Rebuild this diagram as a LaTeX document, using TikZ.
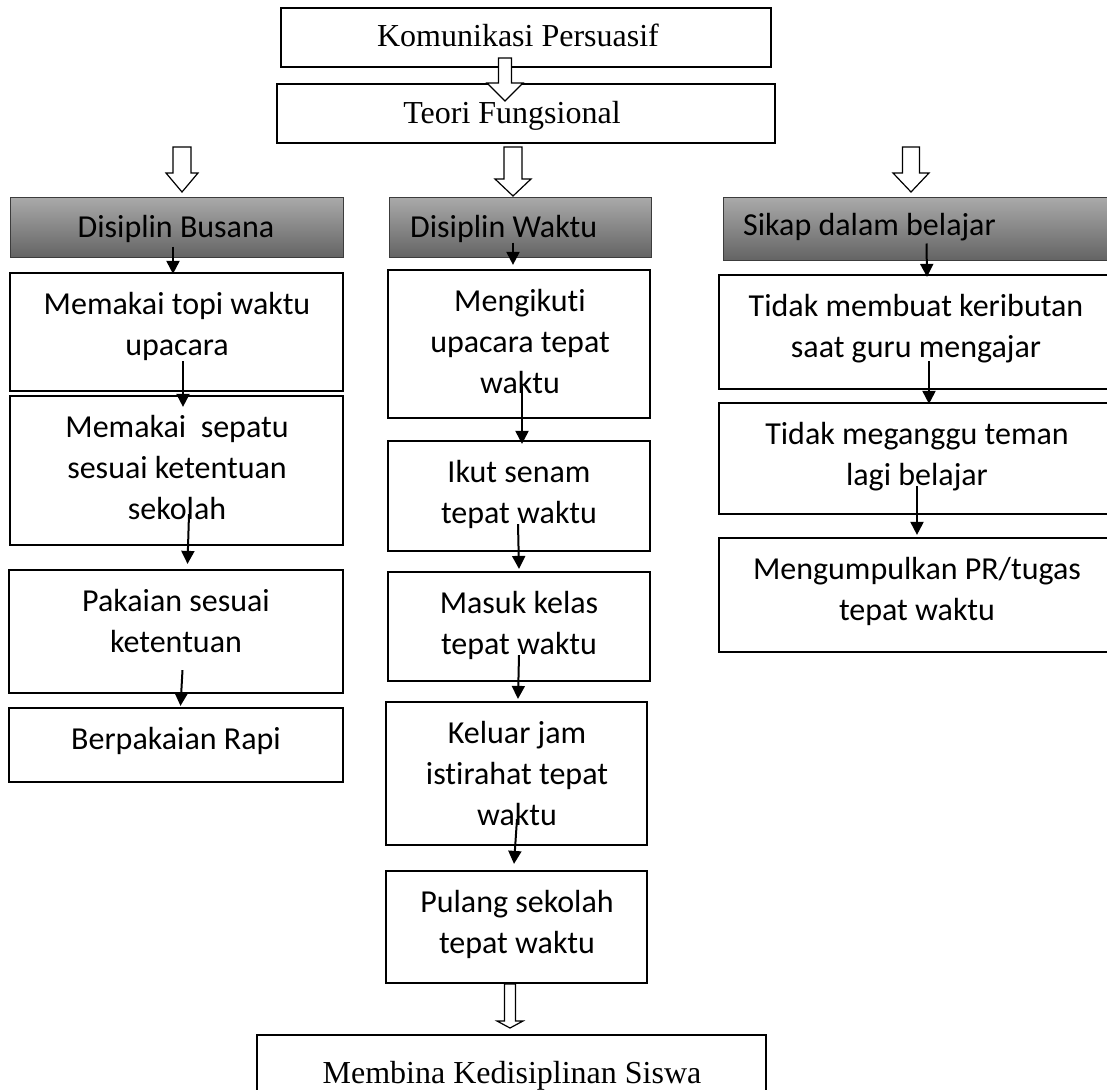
\documentclass[tikz,border=0pt]{standalone}
\usepackage{fontspec}
\setmainfont{Carlito}
\newfontfamily\calfont[RawFeature={-liga}]{Carlito}
\newfontfamily\tmsfont{Liberation Serif}
\usetikzlibrary{arrows.meta,calc}
\definecolor{hdtop}{RGB}{170,170,170}
\definecolor{hdbot}{RGB}{100,100,100}
\definecolor{hdline}{RGB}{60,60,60}
% box by corners: style, name, left, top, right, bottom (pixel units, y downwards)
\newcommand\mkbox[6]{\node[#1,minimum width={(#5)-(#3)},minimum height={(#6)-(#4)}] (#2) at ({((#3)+(#5))/2},{((#4)+(#6))/2}) {};}
% hollow block arrow: name, x, ytop, ybase, ytip, shaft half width, head half width
\newcommand\hollowArr[7]{\draw[hollow] ({#2-#6},#3) -- ({#2+#6},#3) -- ({#2+#6},#4) -- ({#2+#7},#4) -- (#2,#5) -- ({#2-#7},#4) -- ({#2-#6},#4) -- cycle;}
\begin{document}
\begin{tikzpicture}[x=1pt,y=-1pt,
  tbox/.style={draw=black,line width=1.3pt,fill=white,inner sep=0pt},
  ibox/.style={draw=black,line width=2.2pt,fill=white,inner sep=0pt},
  hbox/.style={draw=hdline,line width=1pt,top color=hdtop,bottom color=hdbot,inner sep=0pt},
  ctxt/.style={font=\calfont\fontsize{32}{41}\selectfont,align=center,inner sep=0pt,anchor=north},
  htxt/.style={font=\calfont\fontsize{32}{41}\selectfont,inner sep=0pt},
  ttxt/.style={font=\tmsfont\fontsize{32}{38}\selectfont,inner sep=0pt,anchor=base},
  arr/.style={-{Triangle[length=13pt,width=13pt]},line width=2pt},
  hollow/.style={draw=black,line width=1.2pt,fill=white,line join=miter}]
\useasboundingbox (0,0) rectangle (1107,1089);
\clip (0,0) rectangle (1107,1089);
\fill[white] (0,0) rectangle (1107,1089);

% top boxes
\mkbox{tbox}{kom}{281}{8}{771}{67}
\mkbox{tbox}{teori}{277}{84}{775}{143}
\mkbox{tbox}{bina}{257}{1035}{766}{1110}

% header boxes
\mkbox{hbox}{h1}{10}{197}{343}{257}
\mkbox{hbox}{h2}{389}{197}{651}{257}
\mkbox{hbox}{h3}{723}{197}{1130}{260}

% left column
\mkbox{ibox}{l1}{10}{273}{343}{391}
\mkbox{ibox}{l2}{10}{396}{343}{545}
\mkbox{ibox}{l3}{9}{570}{343}{693}
\mkbox{ibox}{l4}{9}{708}{343}{782}
% middle column
\mkbox{ibox}{m1}{388}{270}{650}{418}
\mkbox{ibox}{m2}{388}{441}{650}{551}
\mkbox{ibox}{m3}{388}{572}{650}{681}
\mkbox{ibox}{m4}{386}{702}{647}{845}
\mkbox{ibox}{m5}{386}{871}{647}{983}
% right column
\mkbox{ibox}{r1}{719}{275}{1113}{389}
\mkbox{ibox}{r2}{719}{403}{1113}{514}
\mkbox{ibox}{r3}{719}{538}{1113}{652}

% hollow arrows
\hollowArr{ha0}{505}{58}{83}{101}{6.5}{18}
\hollowArr{ha1}{182}{147}{173}{192}{9}{16}
\hollowArr{ha2}{513}{147}{179}{196}{9}{18}
\hollowArr{ha3}{911}{147}{173}{192}{8.5}{18}
\hollowArr{ha4}{510}{984}{1021}{1028}{5.5}{13}

% Times texts
\node[ttxt] (tkom) at (518,47) {Komunikasi Persuasif};
\node[ttxt] (tteori) at (512,124) {Teori Fungsional};
\node[ttxt] (tbina) at (512,1083) {Membina Kedisiplinan Siswa};

% header texts
\node[htxt,anchor=base] (th1) at (176,237) {Disiplin Busana};
\node[htxt,anchor=base west] (th2) at (410,237) {Disiplin Waktu};
\node[htxt,anchor=base west] (th3) at (743,235) {Sikap dalam belajar};

% box texts (first baseline = top + 41)
\node[ctxt] (tl1) at (177,{273+41-28.7}) {\strut Memakai topi waktu\\upacara};
\node[ctxt] (tl2) at (177,{396+41-28.7}) {\strut Memakai~ sepatu\\sesuai ketentuan\\sekolah};
\node[ctxt] (tl3) at (176,{570+41-28.7}) {\strut Pakaian sesuai\\ketentuan};
\node[ctxt] (tl4) at (176,{708+41-28.7}) {\strut Berpakaian Rapi};
\node[ctxt] (tm1) at (520,{270+41-28.7}) {\strut Mengikuti\\upacara tepat\\waktu};
\node[ctxt] (tm2) at (519,{441+41-28.7}) {\strut Ikut senam\\tepat waktu};
\node[ctxt] (tm3) at (519,{572+41-28.7}) {\strut Masuk kelas\\tepat waktu};
\node[ctxt] (tm4) at (517,{702+41-28.7}) {\strut Keluar jam\\istirahat tepat\\waktu};
\node[ctxt] (tm5) at (517,{871+41-28.7}) {\strut Pulang sekolah\\tepat waktu};
\node[ctxt] (tr1) at (916,{275+41-28.7}) {\strut Tidak membuat keributan\\saat guru mengajar};
\node[ctxt] (tr2) at (917,{403+41-28.7}) {\strut Tidak meganggu teman\\lagi belajar};
\node[ctxt] (tr3) at (917,{538+41-28.7}) {\strut Mengumpulkan PR/tugas\\tepat waktu};

% connectors
\draw[arr] ($(h1.south)+(-3.5,-11)$) -- ($(l1.north)+(-3.5,2)$);
\draw[arr] ($(l1.south)+(6.5,-31)$) -- ($(l2.north)+(6.5,12)$);
\draw[arr] ($(l2.south)+(12.5,-32)$) -- ($(l3.north)+(11.5,-5)$);
\draw[arr] ($(l3.south)+(6.5,-24)$) -- ($(l4.north)+(4.5,-1)$);

\draw[arr] ($(h2.south)+(-7,-15)$) -- ($(m1.north)+(-6,-4)$);
\draw[arr] ($(m1.south)+(3,-33)$) -- ($(m2.north)+(3,4)$);
\draw[arr] ($(m2.south)+(-1,-28)$) -- ($(m3.north)+(0,-2)$);
\draw[arr] ($(m3.south)+(0,-27)$) -- ($(m4.north)+(1.5,-2)$);
\draw[arr] ($(m4.south)+(0.5,-27)$) -- ($(m5.north)+(-2.5,-6)$);

\draw[arr] ($(h3.south)+(0,-17)$) -- ($(r1.north)+(11,3)$);
\draw[arr] ($(r1.south)+(13,-29)$) -- ($(r2.north)+(13,2)$);
\draw[arr] ($(r2.south)+(1,-29)$) -- ($(r3.north)+(1,-2)$);
\end{tikzpicture}
\end{document}
